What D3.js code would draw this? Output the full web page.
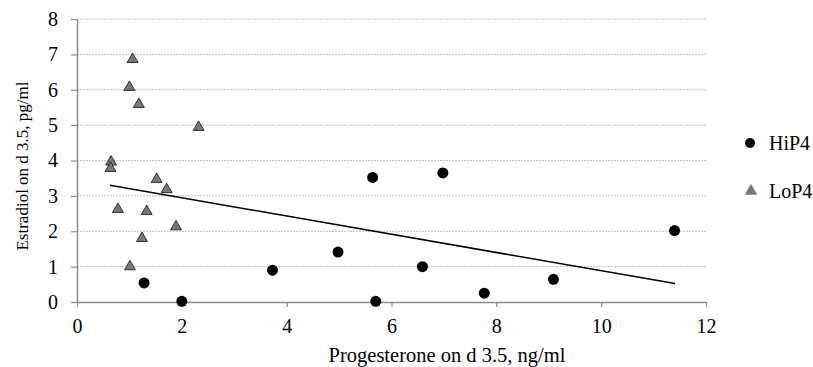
<!DOCTYPE html>
<html><head><meta charset="utf-8">
<script src="https://cdn.jsdelivr.net/npm/d3@7"></script>
<style>body{margin:0;background:#fff}svg{display:block}text{font-family:"Liberation Serif","Times New Roman",serif;fill:#000}</style>
</head><body><svg id="c" width="813" height="367"></svg>
<script>
const hiX = [1.28, 2.00, 3.73, 4.98, 5.64, 5.70, 6.98, 6.59, 7.77, 9.09, 11.40];
const hiY = [0.54, 0.02, 0.90, 1.41, 3.52, 0.02, 3.65, 1.00, 0.25, 0.64, 2.02];
const loX = [1.06, 1.00, 1.18, 2.32, 0.65, 0.64, 1.52, 1.71, 0.78, 1.33, 1.89, 1.24, 1.01];
const loY = [6.86, 6.07, 5.59, 4.94, 3.96, 3.78, 3.47, 3.18, 2.62, 2.56, 2.13, 1.80, 1.00];
const trendX = [0.63, 11.41];
const trendY = [3.30, 0.52];
const xTicks = [0, 2, 4, 6, 8, 10, 12];
const yTicks = [0, 1, 2, 3, 4, 5, 6, 7, 8];
const seriesNames = ["HiP4", "LoP4"];
const xTitle = "Progesterone on d 3.5, ng/ml";
const yTitle = "Estradiol on d 3.5, pg/ml";

const svg = d3.select("#c");
const x = d3.scaleLinear().domain([0, 12]).range([77, 706]);
const y = d3.scaleLinear().domain([0, 8]).range([302, 19]);
const axisCol = "#8c8c8c";

// gridlines
svg.append("g").selectAll("line").data(yTicks.filter(d => d > 0)).join("line")
  .attr("x1", x(0)).attr("x2", x(12)).attr("y1", d => y(d)).attr("y2", d => y(d))
  .attr("stroke", "#bdbdbd").attr("stroke-width", 1).attr("stroke-dasharray", "2,1");

// y axis
const ya = svg.append("g").attr("transform", `translate(${x(0)},0)`)
  .call(d3.axisLeft(y).tickValues(yTicks).tickSize(6).tickSizeOuter(0).tickPadding(13));
ya.select(".domain").attr("stroke", axisCol).attr("stroke-width", 1.5);
ya.selectAll(".tick line").attr("stroke", axisCol).attr("stroke-width", 1.2);
ya.selectAll("text").attr("font-size", 20).attr("font-family", "Liberation Serif").attr("fill", "#000");

// x axis
const xa = svg.append("g").attr("transform", `translate(0,${y(0)})`)
  .call(d3.axisBottom(x).tickValues(xTicks).tickSize(5).tickSizeOuter(0).tickPadding(12));
xa.select(".domain").attr("stroke", axisCol).attr("stroke-width", 1.5);
xa.selectAll(".tick line").attr("stroke", axisCol).attr("stroke-width", 1.2);
xa.selectAll("text").attr("font-size", 20).attr("font-family", "Liberation Serif").attr("fill", "#000");

// trend line
svg.append("line")
  .attr("x1", x(trendX[0])).attr("y1", y(trendY[0]))
  .attr("x2", x(trendX[1])).attr("y2", y(trendY[1]))
  .attr("stroke", "#000").attr("stroke-width", 1.5);

const tri = d3.symbol().type(d3.symbolTriangle).size(52);
const triLg = d3.symbol().type(d3.symbolTriangle).size(60);

// LoP4 triangles
svg.append("g").selectAll("path").data(loX.map((d, i) => [d, loY[i]])).join("path")
  .attr("d", tri).attr("transform", d => `translate(${x(d[0])},${y(d[1])})`)
  .attr("fill", "#777").attr("stroke", "#111").attr("stroke-width", 0.8);

// HiP4 circles
svg.append("g").selectAll("circle").data(hiX.map((d, i) => [d, hiY[i]])).join("circle")
  .attr("cx", d => x(d[0])).attr("cy", d => y(d[1])).attr("r", 5.5).attr("fill", "#000");

// legend
const lg = svg.append("g");
lg.append("circle").attr("cx", 750).attr("cy", 143).attr("r", 5).attr("fill", "#000");
lg.append("text").attr("x", 769).attr("y", 143).attr("dy", "0.35em").attr("font-size", 20).text(seriesNames[0]);
lg.append("path").attr("d", triLg).attr("transform", "translate(751,191)")
  .attr("fill", "#777").attr("stroke", "#777").attr("stroke-width", 0.5);
lg.append("text").attr("x", 769).attr("y", 191).attr("dy", "0.35em").attr("font-size", 20).text(seriesNames[1]);

// titles
svg.append("text").attr("x", 447).attr("y", 362).attr("text-anchor", "middle")
  .attr("font-size", 20.5).text(xTitle);
svg.append("text").attr("transform", "translate(22,166) rotate(-90)").attr("dy", "0.35em")
  .attr("text-anchor", "middle").attr("font-size", 17).text(yTitle);
</script></body></html>
